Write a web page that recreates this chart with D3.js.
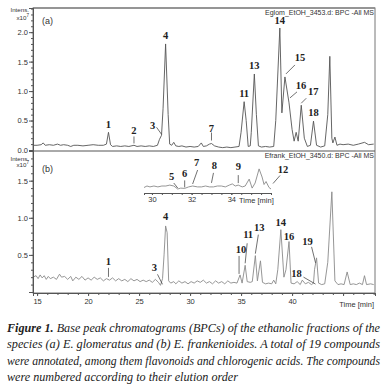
<!DOCTYPE html>
<html>
<head>
<meta charset="utf-8">
<script src="https://cdn.jsdelivr.net/npm/d3@7"></script>
<style>
  body { margin: 0; background: #fff; }
  svg { display: block; }
  .tick-lab { font-family: "Liberation Sans", Arial, sans-serif; font-size: 7.5px; fill: #333; }
  .peak { font-family: "Liberation Serif", "Times New Roman", serif; font-weight: bold; font-size: 10.5px; fill: #222; }
  .cap { font-family: "Liberation Serif", "Times New Roman", serif; font-style: italic; font-size: 11.6px; fill: #222; }
</style>
</head>
<body>
<svg class="chart"></svg>
<script>
// retention times (min) and intensities (x10^7) - trace (a) E. glomeratus
var timeA = [14.6, 15.0, 15.4, 15.6, 15.8, 16.2, 16.6, 17.0, 17.3, 17.6, 18.0, 18.3, 18.6, 19.0, 19.5, 20.0, 20.5, 21.0, 21.5, 21.8,
  22.0, 22.2, 22.4, 22.8, 23.2, 23.6, 24.0, 24.5, 24.8, 25.2, 25.6, 26.0, 26.4, 26.8, 27.0, 27.2, 27.35, 27.6, 27.85, 28.0,
  28.2, 28.4, 28.6, 28.9, 29.2, 29.6, 30.0, 30.4, 30.8, 31.1, 31.3, 31.6, 31.9, 32.1, 32.4, 32.8, 33.2, 33.6, 34.0, 34.4,
  34.8, 35.0, 35.3, 35.5, 35.7, 35.9, 36.0, 36.3, 36.5, 36.7, 37.0, 37.4, 37.8, 38.2, 38.4, 38.8, 39.0, 39.3, 39.7, 40.0,
  40.2, 40.4, 40.6, 40.9, 41.2, 41.5, 41.8, 42.1, 42.4, 42.8, 43.2, 43.5, 43.7, 43.9, 44.0, 44.2, 44.4, 44.7, 45.0, 45.5,
  46.0, 46.5, 47.1, 47.5, 48.0];
var intensA = [0.08, 0.08, 0.09, 0.12, 0.08, 0.09, 0.08, 0.10, 0.08, 0.09, 0.08, 0.06, 0.08, 0.08, 0.07, 0.08, 0.09, 0.08, 0.08, 0.10,
  0.30, 0.09, 0.06, 0.07, 0.06, 0.07, 0.06, 0.08, 0.06, 0.07, 0.06, 0.07, 0.06, 0.08, 0.18, 0.25, 0.70, 1.80, 0.60, 0.10,
  0.08, 0.13, 0.07, 0.06, 0.07, 0.05, 0.06, 0.05, 0.06, 0.12, 0.06, 0.07, 0.10, 0.11, 0.07, 0.05, 0.04, 0.05, 0.04, 0.05,
  0.06, 0.30, 0.82, 0.50, 0.06, 0.07, 0.30, 1.29, 0.60, 0.07, 0.05, 0.06, 0.05, 0.06, 0.50, 2.07, 0.63, 1.24, 0.80, 0.35,
  0.15, 0.30, 0.15, 0.76, 0.20, 0.06, 0.08, 0.49, 0.08, 0.05, 0.07, 0.60, 1.59, 0.20, 0.12, 0.22, 0.08, 0.10, 0.09, 0.10,
  0.08, 0.10, 0.13, 0.09, 0.10];

// trace (b) E. frankenioides
var timeB = [14.6, 14.9, 15.1, 15.3, 15.5, 15.7, 15.9, 16.1, 16.3, 16.6, 16.9, 17.2, 17.4, 17.7, 18.0, 18.3, 18.5, 18.8, 19.1, 19.4,
  19.7, 20.0, 20.3, 20.6, 20.9, 21.2, 21.5, 21.8, 22.1, 22.4, 22.7, 23.0, 23.3, 23.6, 23.9, 24.2, 24.5, 24.8, 25.1, 25.4,
  25.7, 26.0, 26.3, 26.6, 26.9, 27.1, 27.3, 27.45, 27.6, 27.75, 27.9, 28.1, 28.4, 28.6, 28.9, 29.2, 29.5, 29.8, 30.1, 30.4,
  30.7, 31.0, 31.3, 31.6, 31.9, 32.2, 32.5, 32.8, 33.1, 33.4, 33.7, 34.0, 34.3, 34.6, 34.9, 35.1, 35.4, 35.6, 35.9, 36.1,
  36.4, 36.6, 36.9, 37.1, 37.4, 37.7, 38.0, 38.2, 38.4, 38.6, 38.9, 39.2, 39.4, 39.7, 39.9, 40.2, 40.5, 40.8, 41.0, 41.3,
  41.6, 41.9, 42.1, 42.2, 42.4, 42.6, 42.9, 43.2, 43.5, 43.9, 44.2, 44.5, 44.8, 45.1, 45.4, 45.7, 46.0, 46.3, 46.6, 46.9,
  47.1, 47.3, 47.7, 48.0];
var intensB = [0.20, 0.22, 0.18, 0.23, 0.19, 0.22, 0.17, 0.21, 0.18, 0.20, 0.17, 0.24, 0.20, 0.21, 0.17, 0.21, 0.15, 0.20, 0.17, 0.21,
  0.16, 0.19, 0.16, 0.20, 0.17, 0.19, 0.15, 0.18, 0.16, 0.19, 0.15, 0.18, 0.15, 0.17, 0.14, 0.18, 0.15, 0.17, 0.14, 0.16,
  0.14, 0.16, 0.13, 0.17, 0.13, 0.09, 0.18, 0.50, 0.89, 0.80, 0.15, 0.12, 0.14, 0.11, 0.15, 0.12, 0.14, 0.11, 0.14, 0.12,
  0.15, 0.13, 0.16, 0.12, 0.14, 0.11, 0.15, 0.12, 0.14, 0.11, 0.15, 0.12, 0.13, 0.12, 0.23, 0.12, 0.36, 0.14, 0.13, 0.14,
  0.49, 0.15, 0.42, 0.13, 0.11, 0.12, 0.11, 0.16, 0.11, 0.30, 0.84, 0.20, 0.30, 0.68, 0.12, 0.11, 0.14, 0.10, 0.16, 0.11,
  0.13, 0.10, 0.12, 0.30, 0.46, 0.12, 0.10, 0.11, 0.40, 1.35, 0.15, 0.10, 0.11, 0.10, 0.27, 0.10, 0.11, 0.10, 0.12, 0.10,
  0.22, 0.10, 0.11, 0.10];

// inset of (b), 29.6 - 36 min, relative scale
var timeInset = [29.6, 29.75, 29.9, 30.1, 30.3, 30.5, 30.7, 30.9, 31.1, 31.3, 31.45, 31.65, 31.85, 32.05, 32.3, 32.5, 32.7, 32.9,
  33.1, 33.3, 33.5, 33.7, 33.9, 34.05, 34.2, 34.35, 34.55, 34.7, 34.9, 35.05, 35.2, 35.4, 35.55, 35.65, 35.75, 35.9, 36.0];
var intensInset = [0.25, 0.30, 0.27, 0.30, 0.27, 0.30, 0.30, 0.33, 0.30, 0.20, 0.23, 0.22, 0.27, 0.30, 0.27, 0.27, 0.30, 0.27,
  0.27, 0.30, 0.30, 0.27, 0.33, 0.37, 0.30, 0.33, 0.27, 0.30, 0.53, 0.23, 0.40, 0.87, 0.60, 0.35, 0.45, 0.25, 0.20];

// peak annotations: [label, time, value]
var peaksA = [["1", 22.0, 0.30], ["2", 24.5, 0.06], ["3", 27.2, 0.25], ["4", 27.6, 1.80], ["7", 32.1, 0.11],
  ["11", 35.3, 0.82], ["13", 36.3, 1.29], ["14", 38.8, 2.07], ["15", 39.3, 1.24], ["16", 39.7, 0.80],
  ["17", 40.9, 0.76], ["18", 42.1, 0.49]];
var peaksB = [["1", 22.0, 0.19], ["3", 27.1, 0.09], ["4", 27.6, 0.89], ["10", 34.9, 0.23], ["11", 35.4, 0.36],
  ["13", 36.4, 0.49], ["14", 38.9, 0.84], ["16", 39.7, 0.68], ["18", 42.1, 0.12], ["19", 42.4, 0.46]];
var peaksInset = [["5", 31.3, 0.20], ["6", 31.65, 0.22], ["7", 32.05, 0.30], ["8", 33.0, 0.27], ["9", 34.35, 0.33], ["12", 35.9, 0.25]];

var xTickLabels = [15, 20, 25, 30, 35, 40];
var yTickLabelsA = [0.0, 0.5, 1.0, 1.5, 2.0];
var yTickLabelsB = [0.5, 1.0, 1.5];
var insetTickLabels = [30, 32, 34];

var captionLines = [
  ["Figure 1.", " Base peak chromatograms (BPCs) of the ethanolic fractions of the"],
  ["", "species (a) E. glomeratus and (b) E. frankenioides. A total of 19 compounds"],
  ["", "were annotated, among them flavonoids and chlorogenic acids. The compounds"],
  ["", "were numbered according to their elution order"]
];

const width = 384, height = 384;
const left = 33, right = 375;

var svg = d3.select(".chart").attr("width", width).attr("height", height);

var x = d3.scaleLinear().domain([14.6, 48.13]).range([left, right]);
var yA = d3.scaleLinear().domain([0, 2.41]).range([150, 8]);
var yB = d3.scaleLinear().domain([0, 1.9]).range([292, 151]);
var xIn = d3.scaleLinear().domain([29.6, 36.0]).range([144, 271]);
var yIn = d3.scaleLinear().domain([0, 1]).range([195, 165]);

// frame
svg.append("rect").attr("x", left).attr("y", 8).attr("width", right - left).attr("height", 285)
  .attr("fill", "none").attr("stroke", "#777").attr("stroke-width", 1);
svg.append("line").attr("x1", left).attr("x2", right).attr("y1", 151).attr("y2", 151)
  .attr("stroke", "#555").attr("stroke-width", 1);
svg.append("line").attr("x1", left).attr("x2", right).attr("y1", 8).attr("y2", 8)
  .attr("stroke", "#888").attr("stroke-width", 1.6);

// traces
var lineA = d3.line().x((d, i) => x(timeA[i])).y(d => yA(d));
var lineB = d3.line().x((d, i) => x(timeB[i])).y(d => yB(d));
var lineIn = d3.line().x((d, i) => xIn(timeInset[i])).y(d => yIn(d));

svg.append("path").attr("d", lineA(intensA)).attr("fill", "none").attr("stroke", "#555").attr("stroke-width", 0.9);
svg.append("path").attr("d", lineB(intensB)).attr("fill", "none").attr("stroke", "#8a8a8a").attr("stroke-width", 0.9);
svg.append("path").attr("d", lineIn(intensInset)).attr("fill", "none").attr("stroke", "#8a8a8a").attr("stroke-width", 0.9);

// y axes
function yAxis(scale, labels, maxMinor) {
  var minor = d3.range(0, maxMinor + 0.001, 0.1).filter(v => scale(v) >= scale.range()[1] - 0.5);
  var g = svg.append("g").attr("transform", `translate(${left},0)`);
  g.call(d3.axisLeft(scale).tickValues(minor).tickSize(2).tickFormat(""));
  g.append("g").call(d3.axisLeft(scale).tickValues(labels).tickSize(4).tickPadding(1).tickFormat(d3.format(".1f")));
  g.selectAll(".domain").attr("stroke", "#555");
  g.selectAll(".tick line").attr("stroke", "#555");
  g.selectAll(".tick text").attr("class", "tick-lab").attr("font-family", null).attr("font-size", null);
  return g;
}
yAxis(yA, yTickLabelsA, 2.4);
yAxis(yB, yTickLabelsB, 1.8);

// x axis
var xg = svg.append("g").attr("transform", "translate(0,293)");
xg.call(d3.axisBottom(x).tickValues(d3.range(15, 49, 1)).tickSize(2).tickFormat(""));
xg.append("g").call(d3.axisBottom(x).tickValues(d3.range(15, 46, 5)).tickSize(3).tickPadding(3)
  .tickFormat(d => xTickLabels.includes(d) ? d : ""));
xg.selectAll(".domain").attr("stroke", "#555");
xg.selectAll(".tick line").attr("stroke", "#555");
xg.selectAll(".tick text").attr("class", "tick-lab").attr("font-family", null).attr("font-size", null);
svg.append("text").attr("class", "tick-lab").attr("x", 374).attr("y", 307).attr("text-anchor", "end").text("Time [min]");

// inset axis
var ig = svg.append("g").attr("transform", "translate(0,193)");
ig.call(d3.axisBottom(xIn).tickValues(d3.range(30, 36.01, 0.5)).tickSize(2).tickFormat(""));
ig.append("g").call(d3.axisBottom(xIn).tickValues(insetTickLabels).tickSize(2).tickPadding(2).tickFormat(d => d));
ig.selectAll(".domain").attr("stroke", "#555");
ig.selectAll(".tick line").attr("stroke", "#555");
ig.selectAll(".tick text").attr("class", "tick-lab").attr("font-family", null).attr("font-size", null);
svg.append("text").attr("class", "tick-lab").attr("x", 239).attr("y", 203).text("Time [min]");

// y labels
[[12, 20], [160.5, 167]].forEach(p => {
  svg.append("text").attr("class", "tick-lab").attr("x", 29).attr("y", p[0]).attr("text-anchor", "end").style("font-size", "6.2px").text("Intens.");
  var t = svg.append("text").attr("class", "tick-lab").attr("x", 29).attr("y", p[1]).attr("text-anchor", "end").style("font-size", "6.2px");
  t.append("tspan").text("x10");
  t.append("tspan").attr("dy", -3).style("font-size", "4.5px").text("7");
});

// panel tags and file names
svg.append("text").attr("x", 42).attr("y", 24).attr("class", "tick-lab").style("font-size", "9px").text("(a)");
svg.append("text").attr("x", 42).attr("y", 172).attr("class", "tick-lab").style("font-size", "9px").text("(b)");
svg.append("text").attr("class", "tick-lab").attr("x", 374).attr("y", 15).attr("text-anchor", "end").style("font-size", "7px").text("Eglom_EtOH_3453.d: BPC -All MS");
svg.append("text").attr("class", "tick-lab").attr("x", 374).attr("y", 158).attr("text-anchor", "end").style("font-size", "7px").text("Efrank_EtOH_3450.d: BPC -All MS");

// label offsets [dx, dy of text from peak top, leader line or null]
var offA = {
  "1": [0, -4, null], "2": [0, -12, [0, -3, 0, -10]], "3": [-9, -6, [-5, -8, 0, -1]], "4": [0, -5, null],
  "7": [0, -12, [0, -3, 0, -11]], "11": [0, -5, null], "13": [0, -5, null], "14": [0, -4, null],
  "15": [15, -16, [10, -12, 1, -3]], "16": [12, -14, [8, -11, 1, -5]], "17": [12, -10, [5, -7, 0, -2]], "18": [0, -5, null]
};
var offB = {
  "1": [0, -13, [0, -10, 0, -1]], "3": [-6, -14, [-3, -11, 2, -1]], "4": [0, -6, null],
  "10": [1, -22, [-1, -19, -1, -1]], "11": [3, -27, [2, -22, 0, -2]], "13": [4, -25, [3, -21, 0, -2]],
  "14": [0, -4, null], "16": [0, -2, null], "18": [-17, -6, [-10, -6, 2, 1]], "19": [-9, -13, [-5, -11, -1, 5]]
};
var offIn = {
  "5": [-6, -9, [-4, -6, 0, -1]], "6": [0, -11, [0, -8, 0, -1]], "7": [4, -20, [5, -16, 0, -2]],
  "8": [3, -18, [2, -14, 0, -4]], "9": [0, -15, [0, -10, 0, -2]], "12": [14, -15, [11, -12, 4, -4]]
};

function annotate(peaks, offs, xs, ys) {
  peaks.forEach(p => {
    var px = xs(p[1]), py = ys(p[2]), o = offs[p[0]];
    svg.append("text").attr("class", "peak").attr("x", px + o[0]).attr("y", py + o[1])
      .attr("text-anchor", "middle").text(p[0]);
    if (o[2]) {
      svg.append("line").attr("x1", px + o[2][0]).attr("y1", py + o[2][1])
        .attr("x2", px + o[2][2]).attr("y2", py + o[2][3])
        .attr("stroke", "#333").attr("stroke-width", 0.7);
    }
  });
}
annotate(peaksA, offA, x, yA);
annotate(peaksB, offB, x, yB);
annotate(peaksInset, offIn, xIn, yIn);

// caption
var capWidths = [373, 373, 373, 231];
captionLines.forEach((ln, i) => {
  var t = svg.append("text").attr("class", "cap").attr("x", 7).attr("y", 332 + i * 16.3)
    .attr("textLength", capWidths[i]).attr("lengthAdjust", "spacingAndGlyphs");
  if (ln[0]) t.append("tspan").attr("font-weight", "bold").text(ln[0]);
  t.append("tspan").text(ln[1]);
});
</script>
</body>
</html>
